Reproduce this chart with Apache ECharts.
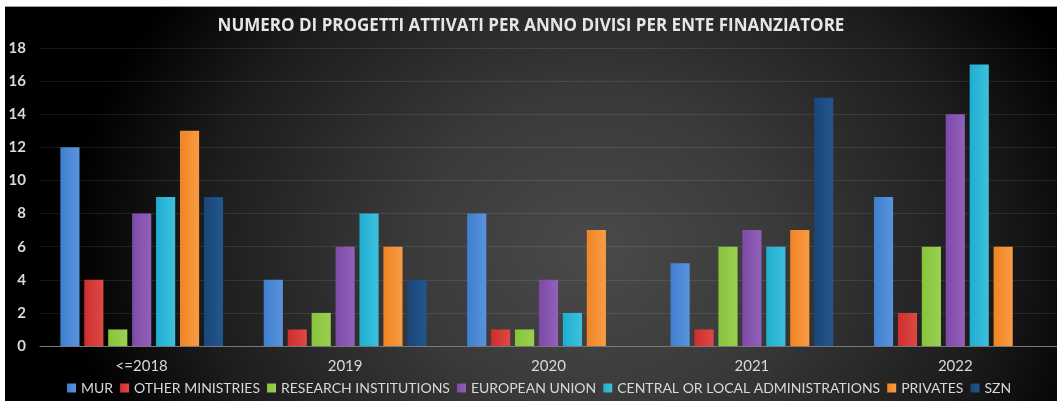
<!DOCTYPE html>
<html>
<head>
<meta charset="utf-8">
<script src="https://cdn.jsdelivr.net/npm/echarts@6/dist/echarts.min.js"></script>
<style>
html, body { margin: 0; padding: 0; background: #fff; overflow: hidden; }
#main-canvas {
    position: absolute; left: 5px; top: 6px; width: 1052px; height: 395px;
    border-top: 1px solid #9a9a9a;
    background: radial-gradient(ellipse 50% 110% at 56% 62%, #4a4a4a 0%, #3a3a3a 35%, #1c1c1c 75%, #000 100%);
}
</style>
</head>
<body>
<div id="main-canvas"></div>
<script>
// dati
var categories = ['<=2018', '2019', '2020', '2021', '2022'];
var mur = [12, 4, 8, 5, 9];
var otherMinistries = [4, 1, 1, 1, 2];
var researchInstitutions = [1, 2, 1, 6, 6];
var europeanUnion = [8, 6, 4, 7, 14];
var centralLocal = [9, 8, 2, 6, 17];
var privates = [13, 6, 7, 7, 6];
var szn = [9, 4, 0, 15, 0];
var yTicks = [0, 18, 2];

var myChart = echarts.init(document.getElementById('main-canvas'));

function barColor(c1, c2)
{
    return new echarts.graphic.LinearGradient(0, 0, 1, 0, [
        { offset: 0, color: c1 },
        { offset: 1, color: c2 }
    ]);
}

function makeSeries(name, data, c1, c2)
{
    return {
        name: name,
        type: 'bar',
        data: data,
        barGap: '25%',
        barCategoryGap: '20%',
        itemStyle: { color: barColor(c1, c2) }
    };
}

var option = {
    animation: false,
    backgroundColor: 'transparent',
    textStyle: { fontFamily: 'Lato' },
    title: {
        text: 'NUMERO DI PROGETTI ATTIVATI PER ANNO DIVISI PER ENTE FINANZIATORE',
        left: 'center',
        top: 6,
        textStyle: { color: '#e6e6e6', fontSize: 17, fontWeight: 'bold', fontFamily: 'Open Sans' }
    },
    legend: {
        left: 62,
        top: 374,
        padding: 0,
        itemWidth: 9,
        itemHeight: 9,
        itemGap: 7,
        icon: 'rect',
        textStyle: { color: '#d9d9d9', fontSize: 14, fontFamily: 'Lato' },
        data: ['MUR', 'OTHER MINISTRIES', 'RESEARCH INSTITUTIONS', 'EUROPEAN UNION',
               'CENTRAL OR LOCAL ADMINISTRATIONS', 'PRIVATES', 'SZN']
    },
    grid: { left: 35, right: -3, top: 41, bottom: 56 },
    xAxis: {
        type: 'category',
        data: categories,
        axisTick: { show: false },
        axisLine: { lineStyle: { color: '#7a7a7a', width: 1 } },
        axisLabel: { color: '#d9d9d9', fontSize: 15, margin: 13 }
    },
    yAxis: {
        type: 'value',
        min: yTicks[0],
        max: yTicks[1],
        interval: yTicks[2],
        axisLine: { show: false },
        axisTick: { show: false },
        axisLabel: { color: '#d9d9d9', fontSize: 15, margin: 14, fontWeight: 'bold' },
        splitLine: { lineStyle: { color: 'rgba(255,255,255,0.09)' } }
    },
    series: [
        makeSeries('MUR', mur, '#3f7fd0', '#5a93dc'),
        makeSeries('OTHER MINISTRIES', otherMinistries, '#cc2e2e', '#dd4a45'),
        makeSeries('RESEARCH INSTITUTIONS', researchInstitutions, '#86c43a', '#9bd052'),
        makeSeries('EUROPEAN UNION', europeanUnion, '#7d4aa8', '#9360bb'),
        makeSeries('CENTRAL OR LOCAL ADMINISTRATIONS', centralLocal, '#1eaed0', '#3ec0dd'),
        makeSeries('PRIVATES', privates, '#f08423', '#f89c45'),
        makeSeries('SZN', szn, '#1a4577', '#23568e')
    ]
};

myChart.setOption(option);
</script>
</body>
</html>
